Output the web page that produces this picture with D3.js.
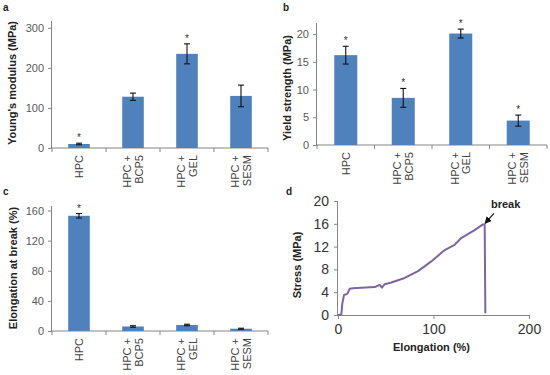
<!DOCTYPE html>
<html>
<head>
<meta charset="utf-8">
<script src="https://cdn.jsdelivr.net/npm/d3@7"></script>
<style>
  body { margin: 0; background: #fff; }
  svg { display: block; font-family: "Liberation Sans", Arial, sans-serif; }
</style>
</head>
<body>
<svg width="550" height="375"></svg>
<script>
// groups on the bar charts
const groups = ["HPC", "HPC +\nBCP5", "HPC +\nGEL", "HPC +\nSESM"];

// a: Young's modulus (MPa)
const modulus = [10, 128, 235, 130];
const modulusErr = [2, 9, 25, 27];
const modulusStar = [true, false, true, false];

// b: yield strength (MPa)
const yieldStr = [16.2, 8.5, 20.1, 4.4];
const yieldErr = [1.6, 1.7, 0.8, 1.0];
const yieldStar = [true, true, true, true];

// c: elongation at break (%)
const elong = [153, 6, 8, 3];
const elongErr = [3, 1, 1, 0.7];
const elongStar = [true, false, false, false];

// d: stress-strain curve, [elongation %, stress MPa]
const curve = [
  [0, 0], [3.5, 0.1], [4.5, 2.0], [6.3, 3.5], [9.8, 3.7], [12.2, 4.6], [15.7, 4.7],
  [24.4, 4.8], [38.4, 4.9], [43.6, 5.3], [46, 4.8], [48.9, 5.4], [55.8, 5.7],
  [69.8, 6.5], [83.8, 7.7], [97.7, 9.4], [111.7, 11.4], [122, 12.3], [129, 13.5],
  [143, 14.9], [151.8, 15.9], [153.6, 15.8], [154.3, 0.3]
];

const svg = d3.select("svg");
const barColor = "#4F81BD";
const axisColor = "#868686";
const tickColor = "#595959";

function barPanel(cfg) {
  const x = d3.scaleBand().domain(groups).range([cfg.left, cfg.right]).padding(0);
  const y = d3.scaleLinear().domain(cfg.domain).range([cfg.bottom, cfg.top]);
  const g = svg.append("g");
  const bw = x.bandwidth() * 0.4;

  // y axis
  const ya = g.append("g")
    .attr("transform", `translate(${cfg.left},0)`)
    .call(d3.axisLeft(y).tickValues(cfg.ticks).tickSize(4).tickPadding(4));
  ya.selectAll("path, line").attr("stroke", axisColor);
  ya.select("path").attr("d", `M-0.5,${cfg.top}V${cfg.bottom}`);
  ya.selectAll("text").attr("fill", tickColor).style("font-size", "11px");

  // x axis with ticks between categories
  const xa = g.append("g").attr("transform", `translate(0,${cfg.bottom})`);
  xa.append("line").attr("x1", cfg.left).attr("x2", cfg.right).attr("stroke", axisColor);
  const edges = groups.map(d => x(d)).concat([cfg.right]);
  xa.selectAll(".tk").data(edges).enter().append("line")
    .attr("x1", d => d).attr("x2", d => d).attr("y1", 0).attr("y2", 4)
    .attr("stroke", axisColor);

  // category labels, rotated
  groups.forEach(d => {
    const lines = d.split("\n");
    const t = g.append("text")
      .attr("transform", `translate(${x(d) + x.bandwidth() / 2},${cfg.bottom + 7}) rotate(-90)`)
      .attr("text-anchor", "end")
      .attr("fill", "#404040")
      .style("font-size", "11px");
    lines.forEach((l, i) => {
      t.append("tspan").attr("x", 0)
        .attr("y", (i - (lines.length - 1) / 2) * 11.5)
        .attr("dy", "0.36em")
        .text(l);
    });
  });

  // bars
  g.selectAll(".bar").data(groups).enter().append("rect")
    .attr("x", d => x(d) + x.bandwidth() / 2 - bw / 2)
    .attr("width", bw)
    .attr("y", (d, i) => y(cfg.values[i]))
    .attr("height", (d, i) => y(0) - y(cfg.values[i]))
    .attr("fill", barColor);

  // error bars
  groups.forEach((d, i) => {
    const cx = x(d) + x.bandwidth() / 2;
    const hi = y(cfg.values[i] + cfg.err[i]);
    const lo = y(cfg.values[i] - cfg.err[i]);
    const e = g.append("g").attr("stroke", "#111").attr("stroke-width", 1.1);
    e.append("line").attr("x1", cx).attr("x2", cx).attr("y1", hi).attr("y2", lo);
    e.append("line").attr("x1", cx - 3).attr("x2", cx + 3).attr("y1", hi).attr("y2", hi);
    e.append("line").attr("x1", cx - 3).attr("x2", cx + 3).attr("y1", lo).attr("y2", lo);
    if (cfg.stars[i]) {
      g.append("text").attr("x", cx).attr("y", hi - 2)
        .attr("text-anchor", "middle").attr("fill", "#333")
        .style("font-size", "10px").text("*");
    }
  });

  // y title
  g.append("text")
    .attr("transform", `translate(${cfg.titleX},${cfg.titleY}) rotate(-90)`)
    .attr("text-anchor", "middle")
    .attr("dy", "0.35em")
    .style("font-size", "11px").style("font-weight", "bold")
    .attr("fill", "#222")
    .text(cfg.title);

  // panel letter
  svg.append("text").attr("x", cfg.letter[0]).attr("y", cfg.letter[1])
    .style("font-size", "10px").style("font-weight", "bold").attr("fill", "#222")
    .text(cfg.letter[2]);
}

barPanel({
  left: 52, right: 268, top: 21, bottom: 148,
  domain: [0, 317], ticks: [0, 100, 200, 300],
  values: modulus, err: modulusErr, stars: modulusStar,
  title: "Young's modulus (MPa)", titleX: 12, titleY: 83,
  letter: [3, 11, "a"]
});

barPanel({
  left: 317, right: 547, top: 23, bottom: 145,
  domain: [0, 22], ticks: [0, 5, 10, 15, 20],
  values: yieldStr, err: yieldErr, stars: yieldStar,
  title: "Yield strength (MPa)", titleX: 287, titleY: 88,
  letter: [283, 11, "b"]
});

barPanel({
  left: 52, right: 268, top: 206, bottom: 331,
  domain: [0, 166], ticks: [0, 40, 80, 120, 160],
  values: elong, err: elongErr, stars: elongStar,
  title: "Elongation at break (%)", titleX: 13, titleY: 268,
  letter: [3, 195, "c"]
});

// panel d: line chart
(function () {
  const left = 338, right = 529, top = 201, bottom = 315;
  const x = d3.scaleLinear().domain([0, 200]).range([left, right]);
  const y = d3.scaleLinear().domain([0, 20]).range([bottom, top]);
  const g = svg.append("g");

  const ya = g.append("g").attr("transform", `translate(${left},0)`)
    .call(d3.axisLeft(y).tickValues([0, 4, 8, 12, 16, 20]).tickSize(4).tickPadding(5));
  const xa = g.append("g").attr("transform", `translate(0,${bottom})`)
    .call(d3.axisBottom(x).tickValues([0, 100, 200]).tickSize(4).tickPadding(5));
  [ya, xa].forEach(a => {
    a.selectAll("path, line").attr("stroke", axisColor);
    a.selectAll("text").attr("fill", "#333").style("font-size", "14px");
  });
  ya.select("path").attr("d", `M-0.5,${top}V${bottom}`);
  xa.select("path").attr("d", `M${left},0.5H${right}`);

  const line = d3.line().x(d => x(d[0])).y(d => y(d[1]));
  g.append("path").datum(curve).attr("d", line)
    .attr("fill", "none").attr("stroke", "#8064A2").attr("stroke-width", 2)
    .attr("stroke-linejoin", "round");

  // break annotation
  const peak = curve[curve.length - 3];
  svg.append("defs").append("marker")
    .attr("id", "arr").attr("viewBox", "0 0 10 10").attr("refX", 9).attr("refY", 5)
    .attr("markerWidth", 6).attr("markerHeight", 6).attr("orient", "auto")
    .append("path").attr("d", "M0,0L10,5L0,10z").attr("fill", "#111");
  g.append("line")
    .attr("x1", x(peak[0]) + 11).attr("y1", y(peak[1]) - 11)
    .attr("x2", x(peak[0]) + 2).attr("y2", y(peak[1]) - 1)
    .attr("stroke", "#111").attr("stroke-width", 1.2)
    .attr("marker-end", "url(#arr)");
  g.append("text").attr("x", x(peak[0]) + 8).attr("y", y(peak[1]) - 16)
    .style("font-size", "11px").style("font-weight", "bold").attr("fill", "#222")
    .text("break");

  g.append("text").attr("x", (left + right) / 2 - 2).attr("y", 351)
    .attr("text-anchor", "middle")
    .style("font-size", "11px").style("font-weight", "bold").attr("fill", "#222")
    .text("Elongation (%)");
  g.append("text")
    .attr("transform", `translate(297,265) rotate(-90)`)
    .attr("text-anchor", "middle").attr("dy", "0.35em")
    .style("font-size", "11px").style("font-weight", "bold").attr("fill", "#222")
    .text("Stress (MPa)");

  svg.append("text").attr("x", 286).attr("y", 195)
    .style("font-size", "10px").style("font-weight", "bold").attr("fill", "#222")
    .text("d");
})();
</script>
</body>
</html>
